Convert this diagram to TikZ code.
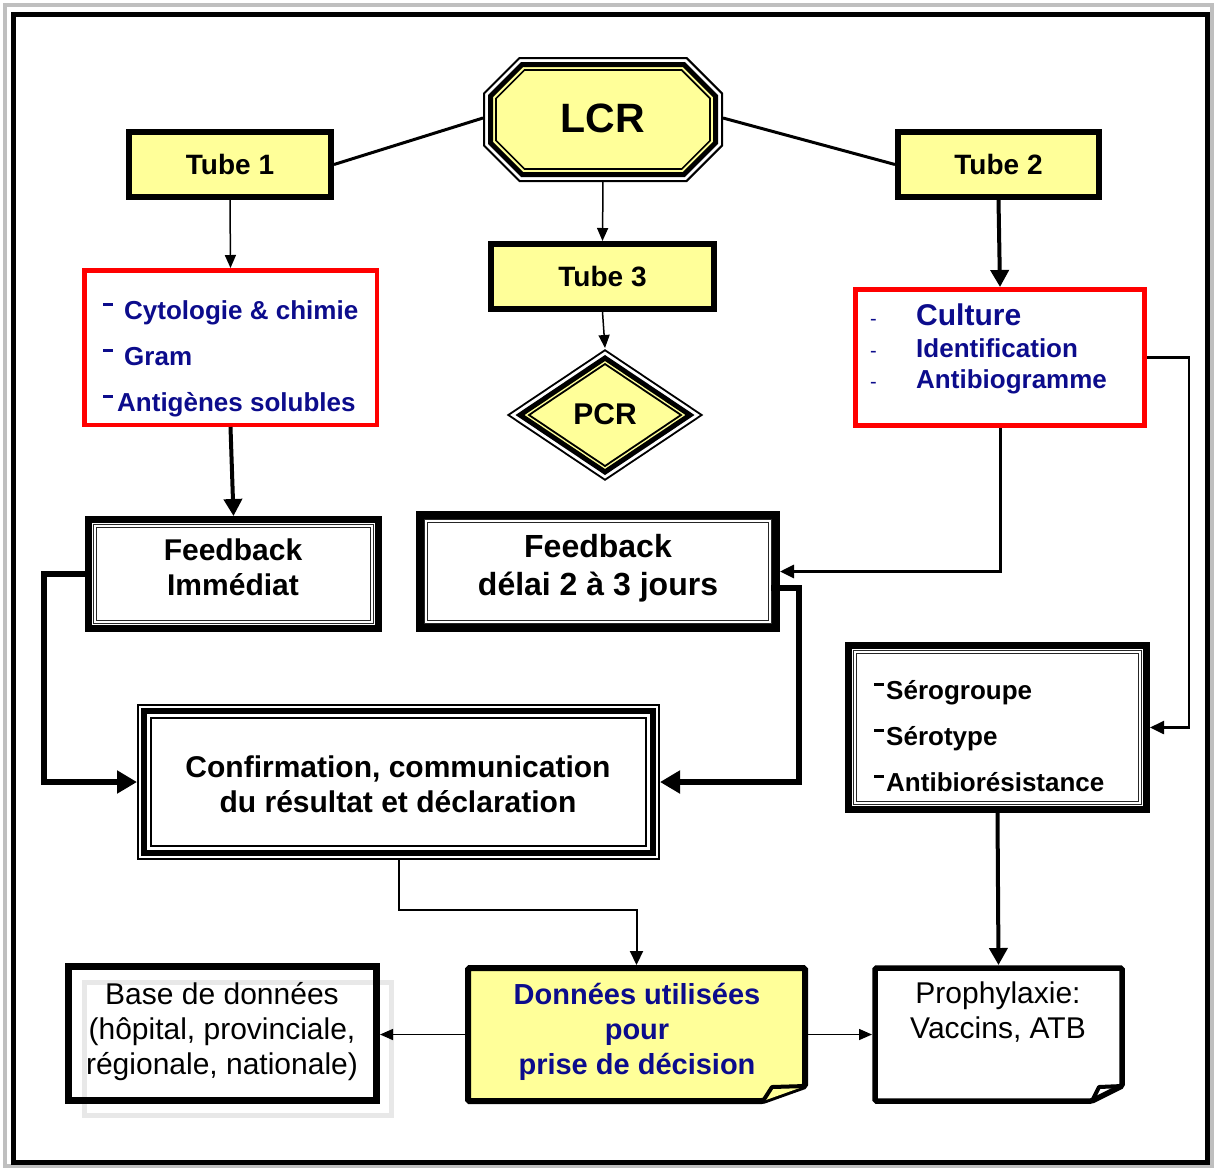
\documentclass[tikz,border=0pt]{standalone}
\usepackage{fontspec}
\setmainfont{Liberation Sans}
\usetikzlibrary{arrows.meta,calc}
\definecolor{ly}{RGB}{255,255,153}
\definecolor{navy}{RGB}{12,12,140}
\definecolor{rd}{RGB}{255,0,0}
\newcommand{\fsz}[2]{\fontsize{#1pt}{#2pt}\selectfont}
\newcommand{\rdash}{\rule[0.5em]{10pt}{2.8pt}}
\newcommand{\ldash}{\makebox[46pt][l]{\mdseries\fsz{20}{24}-}}
\newcommand{\lcroct}[1]{({483+#1},{93+0.414*#1}) -- ({519+0.414*#1},{57+#1}) -- ({687-0.414*#1},{57+#1}) -- ({723-#1},{93+0.414*#1}) -- ({723-#1},{146-0.414*#1}) -- ({687-0.414*#1},{182-#1}) -- ({519+0.414*#1},{182-#1}) -- ({483+#1},{146-0.414*#1}) -- cycle}
\newcommand{\pcrdia}[1]{({506.5+1.8*#1},415) -- (605,{349+1.2*#1}) -- ({703.5-1.8*#1},415) -- (605,{481-1.2*#1}) -- cycle}
\begin{document}
\begin{tikzpicture}[x=1pt,y=-1pt,
  tube/.style={draw,line width=6pt,fill=ly,minimum width=#1,minimum height=65pt,inner sep=0pt,font=\bfseries\fsz{28}{32}},
  ghost/.style={inner sep=0pt,outer sep=0pt},
  redbox/.style={draw=rd,line width=4.5pt,inner sep=0pt},
  fbbox/.style={draw,inner sep=0pt},
  txt/.style={align=center,inner sep=0pt,text depth=0pt},
  li/.style={anchor=west,inner sep=0pt,text height=0.72em,text depth=0.2em},
  thinarr/.style={line width=1.5pt,-{Triangle[length=13pt,width=11pt]}},
  medarr/.style={-{Triangle[length=14pt,width=13pt]}},
  thickarr/.style={line width=4pt,-{Triangle[length=17pt,width=18pt]}},
  bigarr/.style={line width=6pt,-{Triangle[length=20pt,width=22pt]}}]
\fill[white] (0,0) rectangle (1217,1171);
\useasboundingbox (0,0) rectangle (1217,1171);
% frame
\draw[line width=4pt,black!25] (5,5) rectangle (1212,1166);
\draw[line width=5pt] (13.5,14.5) rectangle (1207,1162);
% LCR octagon
\draw[line width=2pt,fill=white] \lcroct{1};
\draw[line width=5pt,fill=ly] \lcroct{7.5};
\draw[line width=1.6pt] \lcroct{13};
% PCR diamond
\draw[line width=1.8pt,fill=white] \pcrdia{1};
\draw[line width=5pt,fill=ly] \pcrdia{7.5};
\draw[line width=1.8pt] \pcrdia{12.5};
% nodes
\node[tube=202pt] (t1) at (230,164.5) {Tube 1};
\node[tube=201pt] (t2) at (998.5,164.5) {Tube 2};
\node[tube=223pt] (t3) at (602.5,276.5) {Tube 3};
\node[ghost,minimum width=240pt,minimum height=125pt,font=\bfseries\fsz{41}{44}] (lcr) at (603,118) {LCR};
\node[ghost,minimum width=197pt,minimum height=132pt,font=\bfseries\fsz{30}{34}] (pcr) at (605,414) {PCR};
\node[redbox,minimum width=292.5pt,minimum height=154.5pt] (r1) at (230.5,347.5) {};
\node[redbox,line width=5pt,minimum width=289pt,minimum height=136pt] (r2) at (1000,357.5) {};
\node[fbbox,line width=7pt,minimum width=290pt,minimum height=109pt] (fbi) at (233.5,574) {};
\node[fbbox,line width=8pt,minimum width=356pt,minimum height=113pt] (fbd) at (598,571.5) {};
\node[fbbox,line width=7pt,minimum width=298pt,minimum height=164pt] (sero) at (997.5,727.5) {};
\foreach \n in {fbi,fbd,sero}
  \draw[double,line width=0.8pt,double distance=2.2pt,black!85] ($(\n.north west)+(10,10)$) rectangle ($(\n.south east)+(-10,-10)$);
\node[ghost,minimum width=523pt,minimum height=156pt] (conf) at (398.5,782) {};
\draw[line width=2pt] ($(conf.north west)+(1,1)$) rectangle ($(conf.south east)+(-1,-1)$);
\draw[line width=5.5pt] ($(conf.north west)+(7,7)$) rectangle ($(conf.south east)+(-7,-7)$);
\draw[line width=1.5pt] ($(conf.north west)+(14,14)$) rectangle ($(conf.south east)+(-14,-14)$);
% bottom row
\draw[line width=5pt,black!9] (84.5,982.5) rectangle (391.5,1115.5);
\node[fbbox,line width=7pt,minimum width=308pt,minimum height=134pt] (base) at (222.5,1033.5) {};
\node[ghost,minimum width=343pt,minimum height=139pt] (don) at (636.5,1034.5) {};
\draw[line width=6pt,fill=ly,rounded corners=1.5pt] (468,968) -- (805,968) -- (805,1086) -- (763,1101) -- (468,1101) -- cycle;
\draw[line width=4pt,fill=ly,line join=round] (763,1101) -- (772,1087) -- (805,1086);
\node[ghost,minimum width=253pt,minimum height=139pt] (pro) at (998.5,1034.5) {};
\draw[line width=5.5pt,fill=white,rounded corners=1.5pt] (875,968) -- (1122,968) -- (1122,1086) -- (1092,1101) -- (875,1101) -- cycle;
\draw[line width=4pt,line join=round] (1092,1101) -- (1099,1087) -- (1122,1086);
% texts
\node[txt,font=\bfseries\fsz{30}{35}] (fbi-t) at (233,567.5) {Feedback\\Immédiat};
\node[txt,font=\bfseries\fsz{32}{38}] (fbd-t) at (598,565) {Feedback\\délai 2 à 3 jours};
\node[txt,font=\bfseries\fsz{30}{35}] (conf-t) at (398,784.5) {Confirmation, communication\\du résultat et déclaration};
\node[txt,font=\bfseries\fsz{29}{35},text=navy] (don-t) at (637,1029) {Données utilisées\\pour\\prise de décision};
\node[txt,font=\fsz{30}{34.5}] (pro-t) at (998,1010) {Prophylaxie:\\Vaccins, ATB};
\node[txt,font=\fsz{30}{35}] (base-t) at (222,1028) {Base de données\\(hôpital, provinciale,\\régionale, nationale)};
% lists
\node[li,text=navy,font=\bfseries\fsz{26}{30}] (r1a) at (103,316.5) {\rdash\hspace{11pt}Cytologie \& chimie};
\node[li,text=navy,font=\bfseries\fsz{26}{30}] (r1b) at (103,362.5) {\rdash\hspace{11pt}Gram};
\node[li,text=navy,font=\bfseries\fsz{26}{30}] (r1c) at (103,408.5) {\rdash\hspace{4pt}Antigènes solubles};
\node[li,text=navy,font=\bfseries\fsz{26}{30}] (r2a) at (870,323) {\ldash\fsz{30}{34}Culture};
\node[li,text=navy,font=\bfseries\fsz{26}{30}] (r2b) at (870,355) {\ldash Identification};
\node[li,text=navy,font=\bfseries\fsz{26}{30}] (r2c) at (870,386) {\ldash Antibiogramme};
\node[li,font=\bfseries\fsz{26}{30}] (s1) at (874,696.5) {\rdash\hspace{2pt}Sérogroupe};
\node[li,font=\bfseries\fsz{26}{30}] (s2) at (874,742.5) {\rdash\hspace{2pt}Sérotype};
\node[li,font=\bfseries\fsz{26}{30}] (s3) at (874,788.5) {\rdash\hspace{2pt}Antibiorésistance};
% connectors
\draw[line width=3pt] (t1.east) -- (lcr.west);
\draw[line width=3pt] (lcr.east) -- (t2.west);
\draw[thinarr] (lcr.south) -- (t3.north);
\draw[thinarr] (t3.south) -- (pcr.north);
\draw[thinarr] (t1.south) -- (r1.north);
\draw[thickarr] (t2.south) -- (r2.north);
\draw[thickarr] (r1.south) -- (fbi.north);
\draw[medarr,line width=3pt] (r2.south) |- (fbd.east);
\draw[medarr,line width=2.5pt] (r2.east) -- ++(42,0) |- (sero.east);
\draw[bigarr] (fbi.west) -- ++(-41,0) |- (conf.west);
\coordinate (fbdout) at (771,588);
\draw[bigarr] (fbdout) -- ++(28,0) |- (conf.east);
\draw[medarr,line width=2pt] (conf.south) -- ++(0,50) -| (don.north);
\draw[thickarr] (sero.south) -- (pro.north);
\draw[thinarr] (don.west) -- (don.west -| base.east);
\draw[thinarr] (don.east) -- (don.east -| pro.west);
\end{tikzpicture}
\end{document}
